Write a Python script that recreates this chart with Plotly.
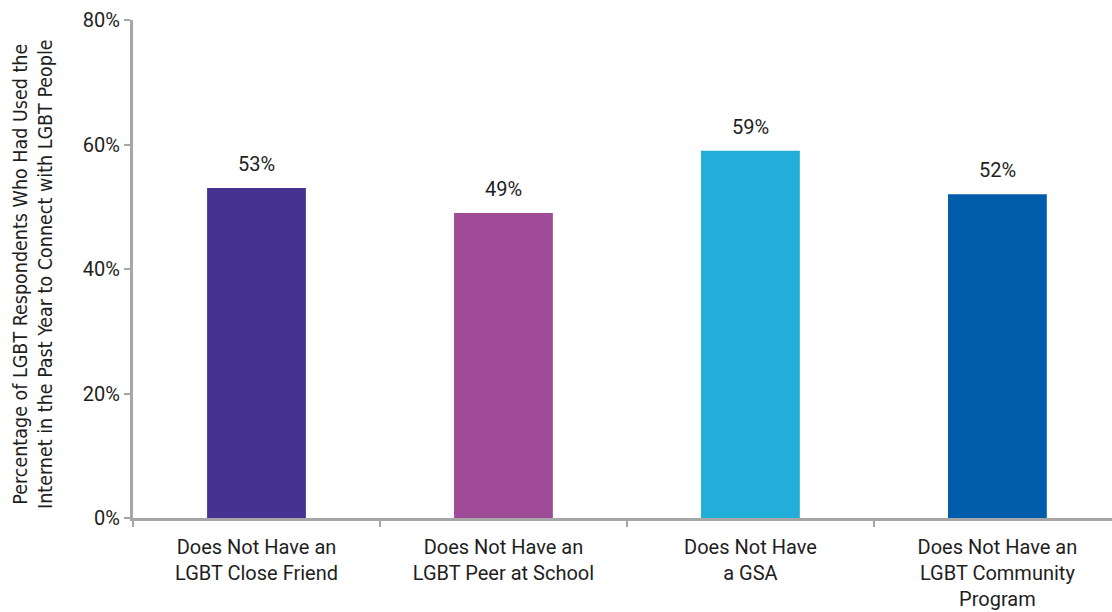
import plotly.graph_objects as go

categories = [
    "Does Not Have an<br>LGBT Close Friend",
    "Does Not Have an<br>LGBT Peer at School",
    "Does Not Have<br>a GSA",
    "Does Not Have an<br>LGBT Community<br>Program",
]
values = [53, 49, 59, 52]
bar_colors = ["#463291", "#9e4a97", "#22aed9", "#005dab"]
y_ticks = [0, 20, 40, 60, 80]
y_tick_text = ["0%", "20%", "40%", "60%", "80%"]
y_title = ("Percentage of LGBT Respondents Who Had Used the<br>"
           "Internet in the Past Year to Connect with LGBT People")

TEXT = "#1e1e1e"
AXIS = "#a6a6a6"

fig = go.Figure(
    go.Bar(
        x=categories,
        y=values,
        marker=dict(color=bar_colors, line=dict(width=0)),
        width=0.4,
        hoverinfo="x+y",
    )
)

# value labels above each bar
for cat, v in zip(categories, values):
    fig.add_annotation(
        x=cat, y=v, xref="x", yref="y",
        text=f"{v}%",
        showarrow=False,
        yanchor="bottom",
        yshift=10,
        font=dict(family="Roboto", size=20, color=TEXT),
    )

fig.add_annotation(
    text=y_title,
    xref="paper", yref="paper",
    x=(33 - 133) / 979, y=0.49,
    xanchor="center", yanchor="middle",
    textangle=-90,
    showarrow=False,
    font=dict(family="DejaVu Sans Condensed, Roboto", size=19.5, color=TEXT),
)

fig.update_layout(
    width=1112,
    height=612,
    margin=dict(l=133, r=0, t=20, b=94),
    plot_bgcolor="white",
    paper_bgcolor="white",
    showlegend=False,
    xaxis=dict(
        range=[-0.5, 3.464],
        showline=True,
        linecolor=AXIS,
        linewidth=3,
        ticks="outside",
        tickson="boundaries",
        ticklen=6,
        tickwidth=2,
        tickcolor=AXIS,
        ticklabelstandoff=9,
        tickfont=dict(family="Roboto", size=20, color=TEXT),
        showgrid=False,
        zeroline=False,
    ),
    yaxis=dict(
        range=[0, 80],
        tickvals=y_ticks,
        ticktext=y_tick_text,
        showline=True,
        linecolor=AXIS,
        linewidth=3,
        ticks="outside",
        ticklen=6,
        tickwidth=2,
        tickcolor=AXIS,
        tickfont=dict(family="Roboto", size=20, color=TEXT),
        showgrid=False,
        zeroline=False,
    ),
)

fig.write_html("out.html")
